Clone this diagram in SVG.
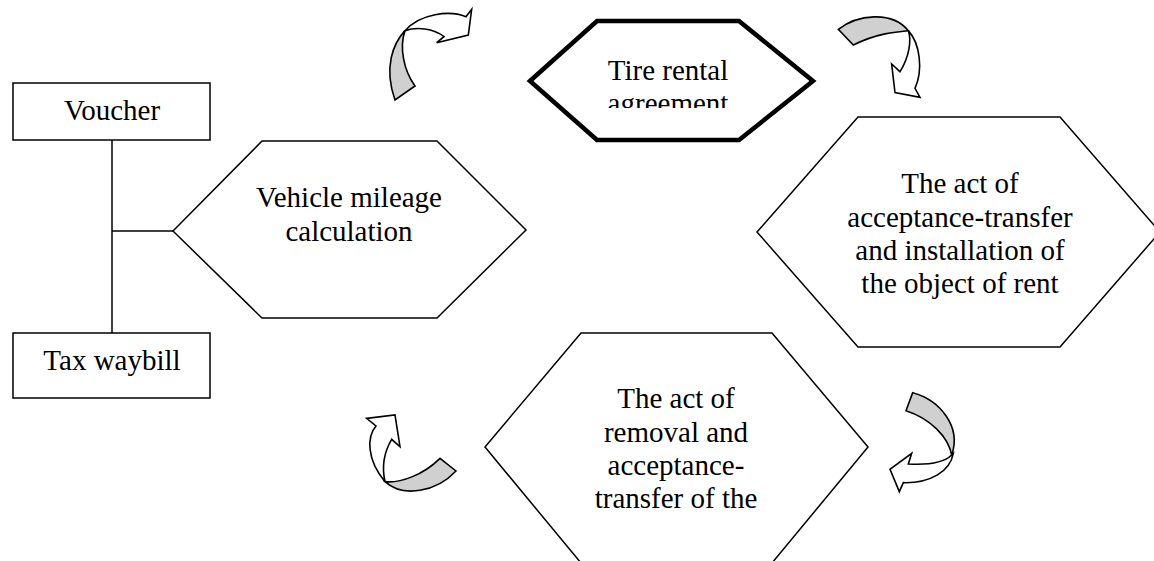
<svg xmlns="http://www.w3.org/2000/svg" width="1154" height="561" viewBox="0 0 1154 561">
<style>
.hex{fill:#fff;stroke:#000;stroke-width:1.5;stroke-linejoin:miter}
.box{fill:#fff;stroke:#000;stroke-width:1.5}
.thick{fill:#fff;stroke:#000;stroke-width:4.5;stroke-linejoin:miter}
.t{font-family:"Liberation Serif","Times New Roman",serif;font-size:29px;fill:#000;text-anchor:middle}
.ln{stroke:#000;stroke-width:1.5;fill:none}
.gray{fill:#d0d0d0;stroke:#000;stroke-width:1.6;vector-effect:non-scaling-stroke;stroke-linejoin:miter}
.white{fill:#fff;stroke:#000;stroke-width:1.6;vector-effect:non-scaling-stroke;stroke-linejoin:miter}
</style>
<defs>
<clipPath id="tireClip"><rect x="540" y="40" width="260" height="68"/></clipPath>
</defs>
<g id="connectors">
<line class="ln" x1="112" y1="140" x2="112" y2="333"/>
<line class="ln" x1="112" y1="231" x2="173" y2="231"/>
</g>
<g id="voucher">
<rect class="box" x="13" y="83" width="197" height="57"/>
<text class="t" x="112" y="120">Voucher</text>
</g>
<g id="tax-waybill">
<rect class="box" x="13" y="333" width="197" height="65"/>
<text class="t" x="112" y="370">Tax waybill</text>
</g>
<g id="vehicle-mileage">
<polygon class="hex" points="173,231 262,141 437,141 526,230 437,318 262,318"/>
<text class="t" x="349" y="207">Vehicle mileage</text>
<text class="t" x="349" y="241">calculation</text>
</g>
<g id="tire-rental">
<polygon class="thick" points="530,81 597,21 739,21 813,81 739,140 597,140"/>
<g clip-path="url(#tireClip)">
<text class="t" x="668" y="80">Tire rental</text>
<text class="t" x="668" y="113">agreement</text>
</g>
</g>
<g id="act-acceptance">
<polygon class="hex" points="757,232 858,117 1060,117 1160,232 1060,347 858,347"/>
<text class="t" x="960" y="193">The act of</text>
<text class="t" x="960" y="227">acceptance-transfer</text>
<text class="t" x="960" y="260">and installation of</text>
<text class="t" x="960" y="293">the object of rent</text>
</g>
<g id="act-removal">
<polygon class="hex" points="485,447 581,333 772,333 868,447 772,563 581,563"/>
<text class="t" x="676" y="408">The act of</text>
<text class="t" x="676" y="442">removal and</text>
<text class="t" x="676" y="475">acceptance-</text>
<text class="t" x="676" y="508">transfer of the</text>
</g>
<g id="arrow-top-left" transform="translate(370,0) scale(0.3333)">
<path class="gray" d="M105,92 C70,130 40,200 75,300 L135,258 C100,210 88,140 105,92 Z"/>
<path class="white" d="M105,92 C150,40 240,30 288,50 L305,28 L295,105 L200,128 L222,110 C190,85 140,80 105,92 Z"/>
</g>
<g id="arrow-top-right" transform="translate(820,0) scale(0.3333)">
<path class="gray" d="M55,88 C110,45 215,30 265,92 C230,95 170,100 100,135 Z"/>
<path class="white" d="M265,92 C300,130 310,210 285,265 L300,292 L225,278 L215,192 L240,215 C268,170 275,120 265,92 Z"/>
</g>
<g id="arrow-bottom-right" transform="translate(890,380) scale(0.3333)">
<path class="gray" d="M68,38 C150,60 215,140 185,225 C175,170 120,115 48,92 Z"/>
<path class="white" d="M185,225 C160,250 110,255 55,252 L65,220 L0,268 L28,335 L40,308 C120,310 180,275 190,220 Z"/>
</g>
<g id="arrow-bottom-left" transform="translate(350,400) scale(0.3333)">
<path class="gray" d="M105,245 C160,295 260,275 318,213 L270,175 C220,225 150,250 105,245 Z"/>
<path class="white" d="M105,245 C50,180 50,110 78,78 L50,55 L135,45 L150,140 L125,118 C100,160 95,200 105,245 Z"/>
</g>
</svg>
